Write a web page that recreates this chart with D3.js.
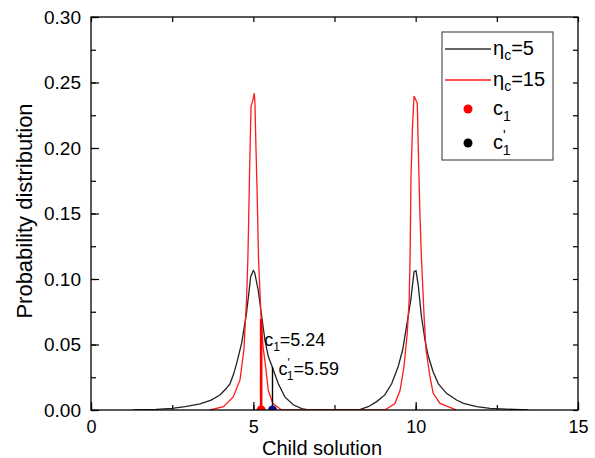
<!DOCTYPE html>
<html>
<head>
<meta charset="utf-8">
<script src="https://cdn.jsdelivr.net/npm/d3@7"></script>
<style>
  body { margin: 0; background: #fff; }
  svg { font-family: "Liberation Sans", Arial, sans-serif; }
</style>
</head>
<body>
<svg id="chart" width="595" height="458"></svg>
<script>
// values
const xTickValues = [0, 5, 10, 15];
const yTickValues = [0, 0.05, 0.10, 0.15, 0.20, 0.25, 0.30];

// eta_c = 5 (black curve)
const xEta5 = [1.3, 1.6, 2.0, 2.5, 2.9, 3.36, 3.7, 3.97, 4.15, 4.28, 4.4, 4.49, 4.64, 4.79, 4.92, 5.0, 5.04, 5.15, 5.26, 5.36, 5.46, 5.58, 5.77, 5.97, 6.23, 6.49, 6.7,
               8.23, 8.54, 8.8, 9.05, 9.26, 9.46, 9.6, 9.72, 9.85, 9.95, 10.01, 10.08, 10.18, 10.29, 10.39, 10.54, 10.7, 10.95, 11.26, 11.47, 11.88, 12.29, 12.8, 13.47];
const yEta5 = [0, 0.0003, 0.0005, 0.0013, 0.0025, 0.0046, 0.0075, 0.0115, 0.016, 0.020, 0.028, 0.036, 0.051, 0.074, 0.102, 0.1064, 0.105, 0.0916, 0.071, 0.053, 0.041, 0.033, 0.020, 0.010, 0.004, 0.001, 0,
               0, 0.0025, 0.0064, 0.0115, 0.020, 0.033, 0.046, 0.064, 0.084, 0.1056, 0.1063, 0.095, 0.071, 0.053, 0.041, 0.029, 0.020, 0.0127, 0.0076, 0.005, 0.0025, 0.0013, 0.0006, 0];

// eta_c = 15 (red curve)
const xEta15 = [3.66, 4.08, 4.38, 4.59, 4.71, 4.79, 4.83, 4.85, 4.88, 4.91, 4.93, 4.98, 5.03, 5.05, 5.08, 5.12, 5.16, 5.24, 5.3, 5.38, 5.46, 5.6, 5.87,
                9.05, 9.36, 9.52, 9.64, 9.74, 9.8, 9.83, 9.855, 9.9, 9.95, 10.0, 10.05, 10.08, 10.13, 10.18, 10.26, 10.32, 10.44, 10.54, 10.75, 11.26];
const yEta15 = [0, 0.0025, 0.010, 0.023, 0.046, 0.084, 0.114, 0.137, 0.176, 0.211, 0.232, 0.236, 0.2418, 0.234, 0.201, 0.163, 0.115, 0.0695, 0.048, 0.033, 0.015, 0.005, 0,
                0, 0.005, 0.015, 0.033, 0.0585, 0.084, 0.12, 0.176, 0.215, 0.2397, 0.237, 0.234, 0.200, 0.150, 0.115, 0.071, 0.046, 0.0254, 0.0127, 0.005, 0];

// children marked on the axis
const childNames = ["c1", "c1'"];
const childX = [5.24, 5.59];
const childPdf = [0.0695, 0.033];

const W = 595, H = 458;
const margin = { top: 17, right: 17, bottom: 48, left: 91 };
const iw = W - margin.left - margin.right;
const ih = H - margin.top - margin.bottom;

const svg = d3.select("#chart");
const g = svg.append("g").attr("transform", `translate(${margin.left},${margin.top})`);

const x = d3.scaleLinear().domain([0, 15]).range([0, iw]);
const y = d3.scaleLinear().domain([0, 0.30]).range([ih, 0]);

svg.append("defs").append("clipPath").attr("id", "plotClip")
  .append("rect").attr("width", iw).attr("height", ih);

// axes, ticks pointing inward
const minorX = d3.range(0, 15.01, 2.5);
const minorY = d3.range(0, 0.301, 0.025);

function styleAxis(sel, size) {
  sel.select(".domain").remove();
  sel.selectAll("line").attr("stroke", "#000").attr("stroke-width", 1.2);
  sel.selectAll("text").attr("fill", "#000").attr("font-size", size || 18)
    .attr("font-family", "Liberation Sans, Arial, sans-serif");
}

g.append("g").attr("transform", `translate(0,${ih})`)
  .call(d3.axisBottom(x).tickValues(minorX).tickSize(-5).tickFormat(""))
  .call(styleAxis);
g.append("g").attr("transform", `translate(0,${ih})`)
  .call(d3.axisBottom(x).tickValues(xTickValues).tickSize(-8).tickPadding(10).tickFormat(d3.format("d")))
  .call(styleAxis, 18);
g.append("g")
  .call(d3.axisTop(x).tickValues(minorX).tickSize(-5).tickFormat(""))
  .call(styleAxis);

g.append("g")
  .call(d3.axisLeft(y).tickValues(minorY).tickSize(-5).tickFormat(""))
  .call(styleAxis);
g.append("g")
  .call(d3.axisLeft(y).tickValues(yTickValues).tickSize(-8).tickPadding(10).tickFormat(d3.format(".2f")))
  .call(styleAxis, 19);
g.append("g").attr("transform", `translate(${iw},0)`)
  .call(d3.axisRight(y).tickValues(minorY).tickSize(-5).tickFormat(""))
  .call(styleAxis);

// curves
const line = d3.line().x(d => x(d[0])).y(d => y(d[1]));
const plot = g.append("g").attr("clip-path", "url(#plotClip)");

plot.append("path")
  .datum(d3.zip(xEta5, yEta5))
  .attr("d", line)
  .attr("fill", "none")
  .attr("stroke", "#222")
  .attr("stroke-width", 1.3);

plot.append("path")
  .datum(d3.zip(xEta15, yEta15))
  .attr("d", line)
  .attr("fill", "none")
  .attr("stroke", "#ff1a1a")
  .attr("stroke-width", 1.3);

// drop lines for the children
const dropColor = ["#ff0000", "#000"];
const dropWidth = [2.6, 1.4];
plot.selectAll(".drop")
  .data(childX)
  .enter()
  .append("line")
  .attr("x1", d => x(d)).attr("x2", d => x(d))
  .attr("y1", y(0))
  .attr("y2", (d, i) => y(childPdf[i]))
  .attr("stroke", (d, i) => dropColor[i])
  .attr("stroke-width", (d, i) => dropWidth[i]);

const dotColor = ["#ff0000", "#0a0a8c"];
plot.selectAll(".dot")
  .data(childX)
  .enter()
  .append("circle")
  .attr("cx", d => x(d))
  .attr("cy", y(0))
  .attr("r", 4.5)
  .attr("fill", (d, i) => dotColor[i]);

// frame
g.append("rect").attr("width", iw).attr("height", ih)
  .attr("fill", "none").attr("stroke", "#000").attr("stroke-width", 1.3);

// annotations c1=5.24, c1'=5.59
const ann1 = g.append("text")
  .attr("x", x(childX[0]) + 3)
  .attr("y", y(childPdf[0]) + 27)
  .attr("font-size", 18);
ann1.append("tspan").text("c");
ann1.append("tspan").attr("font-size", 12).attr("dy", 5).text("1");
ann1.append("tspan").attr("dy", -5).text("=" + childX[0].toFixed(2));

const ann2 = g.append("text")
  .attr("x", x(childX[1]) + 6)
  .attr("y", y(childPdf[1]) + 8)
  .attr("font-size", 18);
ann2.append("tspan").text("c");
ann2.append("tspan").attr("font-size", 12).attr("dy", -8).text("'");
ann2.append("tspan").attr("font-size", 12).attr("dx", -3).attr("dy", 13).text("1");
ann2.append("tspan").attr("dy", -5).text("=" + childX[1].toFixed(2));

// axis titles
svg.append("text")
  .attr("x", 322)
  .attr("y", 455)
  .attr("text-anchor", "middle")
  .attr("font-size", 20)
  .text("Child solution");

svg.append("text")
  .attr("transform", `translate(32,211) rotate(-90)`)
  .attr("text-anchor", "middle")
  .attr("font-size", 22)
  .text("Probability distribution");

// legend
const leg = svg.append("g").attr("transform", "translate(442,32)");
leg.append("rect").attr("width", 111).attr("height", 128)
  .attr("fill", "#fff").attr("stroke", "#555").attr("stroke-width", 1.2);

const legendLines = [{ eta: "5", color: "#333" }, { eta: "15", color: "#ff1a1a" }];
legendLines.forEach((d, i) => {
  const yy = 17 + i * 31;
  leg.append("line").attr("x1", 3).attr("x2", 49).attr("y1", yy).attr("y2", yy)
    .attr("stroke", d.color).attr("stroke-width", 1.3);
  const t = leg.append("text").attr("x", 51).attr("y", yy + 6).attr("font-size", 20);
  t.append("tspan").text("η");
  t.append("tspan").attr("font-size", 14).attr("dy", 5).text("c");
  t.append("tspan").attr("dy", -5).text("=" + d.eta);
});

const legendDots = [{ color: "#ff0000", prime: false }, { color: "#000", prime: true }];
legendDots.forEach((d, i) => {
  const yy = 77 + i * 34;
  leg.append("circle").attr("cx", 26).attr("cy", yy).attr("r", 4.5).attr("fill", d.color);
  const t = leg.append("text").attr("x", 51).attr("y", yy + 6).attr("font-size", 20);
  t.append("tspan").text("c");
  if (d.prime) {
    t.append("tspan").attr("font-size", 14).attr("dy", -9).text("'");
    t.append("tspan").attr("font-size", 14).attr("dx", -3).attr("dy", 15).text("1");
  } else {
    t.append("tspan").attr("font-size", 14).attr("dy", 6).text("1");
  }
});
</script>
</body>
</html>
